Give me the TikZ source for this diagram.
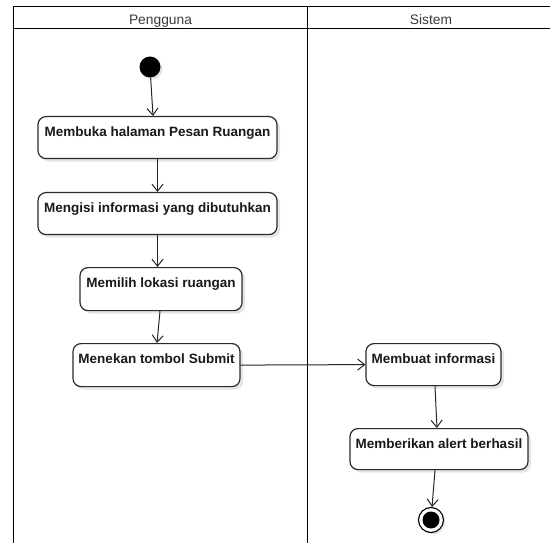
\documentclass[tikz,border=0pt]{standalone}
\usepackage{fontspec}
\setmainfont{Liberation Sans}
\usetikzlibrary{arrows.meta,shadows}
\definecolor{edge}{HTML}{2A2A2A}
\definecolor{label}{HTML}{3A3A3A}
\begin{document}
\begin{tikzpicture}[x=1pt,y=-1pt,
  lane/.style={draw=black,line width=1.8pt},
  lanetitle/.style={font=\fontsize{13.8}{16}\selectfont,text=label,anchor=base,inner sep=0pt},
  act/.style={draw=edge,line width=1.2pt,rounded corners=8pt,fill=white,
    inner sep=0pt,text height=19.5pt,anchor=north,
    font=\fontsize{13.5}{16}\selectfont\bfseries,text=black!90,
    drop shadow={shadow xshift=3pt,shadow yshift=-3pt,fill=black,opacity=0.10}},
  flow/.style={draw=black!85,line width=1pt,-{Straight Barb[length=7pt,width=11pt]}},
  initial/.style={circle,fill=black,minimum size=21pt,inner sep=0pt,
    drop shadow={shadow xshift=2pt,shadow yshift=-2pt,fill=black,opacity=0.10}},
  final/.style={circle,draw=black,line width=1.1pt,fill=white,minimum size=25pt,inner sep=0pt,
    drop shadow={shadow xshift=2pt,shadow yshift=-2pt,fill=black,opacity=0.10}},
]
\useasboundingbox (0,0) rectangle (550,543);
\clip (0,0) rectangle (550,543);

% swimlanes
\draw[lane] (13.5,560) -- (13.5,6.5) -- (570,6.5);
\draw[lane] (13.5,28.5) -- (570,28.5);
\draw[lane] (307.5,6.5) -- (307.5,560);
\node[lanetitle] (userlane) at (160.5,24.5) {Pengguna};
\node[lanetitle] (syslane) at (431,24.5) {Sistem};

% actions
\node[initial] (start) at (150,67) {};
\node[act,minimum width=239pt,text depth=22.5pt] (n1) at (157.5,116) {Membuka halaman Pesan Ruangan};
\node[act,minimum width=239pt,text depth=22.5pt] (n2) at (157.5,192) {Mengisi informasi yang dibutuhkan};
\node[act,minimum width=162pt,text depth=23.5pt] (n3) at (161,267) {Memilih lokasi ruangan};
\node[act,minimum width=167pt,text depth=23.5pt] (n4) at (156.5,343) {Menekan tombol Submit};
\node[act,minimum width=135pt,text depth=22.5pt] (n5) at (433.5,343) {Membuat informasi};
\node[act,minimum width=178pt,text depth=21.5pt] (n6) at (439,428) {Memberikan alert berhasil};
\node[final] (end) at (431,520) {};
\fill (end.center) circle (8.5pt);

% control flow
\draw[flow] (start) -- ([xshift=-4.5pt]n1.north);
\draw[flow] (n1.south) -- (n2.north);
\draw[flow] (n2.south) -- (n3.north -| n2.south);
\draw[flow] ([xshift=-1pt]n3.south) -- ([xshift=0.5pt]n4.north);
\draw[flow] (n4.east) -- (n5.west);
\draw[flow] ([xshift=1.5pt]n5.south) -- ([xshift=-2pt]n6.north);
\draw[flow] ([xshift=-4pt]n6.south) -- (end);
\end{tikzpicture}
\end{document}
